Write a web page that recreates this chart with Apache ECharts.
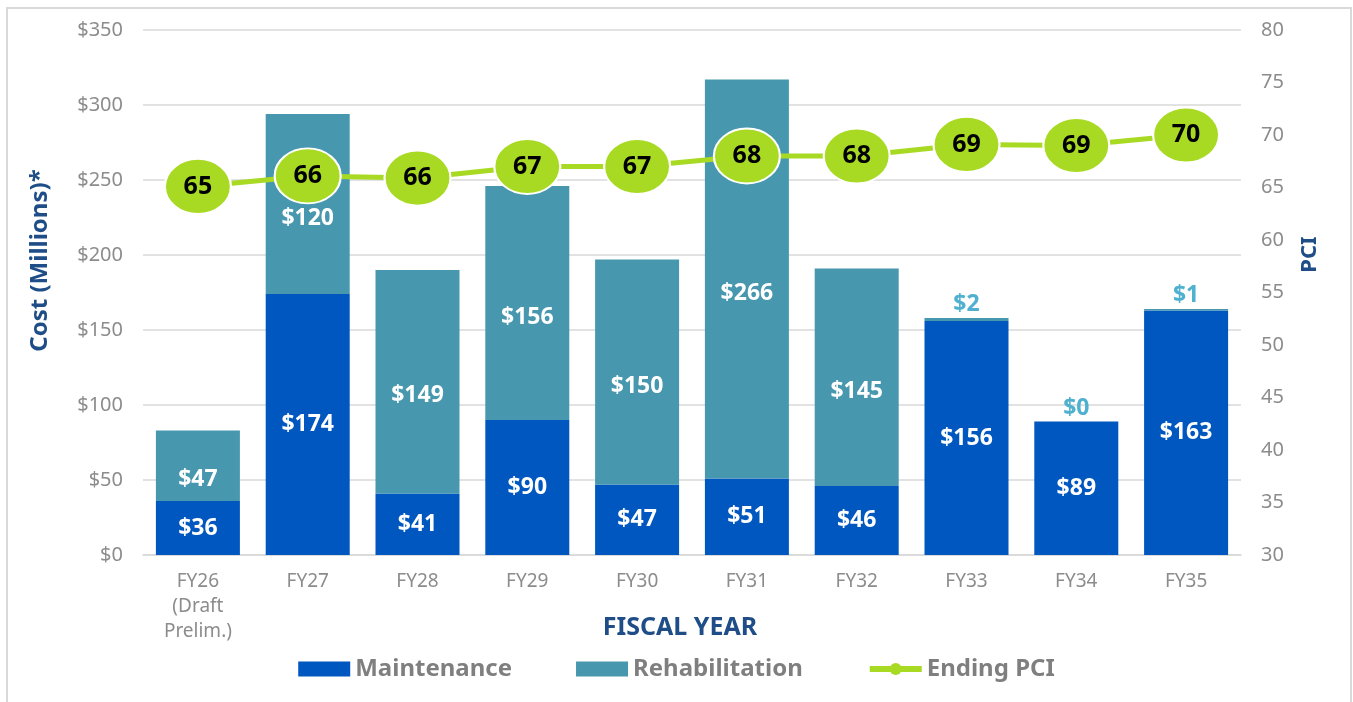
<!DOCTYPE html>
<html>
<head>
<meta charset="utf-8">
<script src="https://cdn.jsdelivr.net/npm/echarts@6/dist/echarts.min.js"></script>
<style>
  html, body { margin: 0; padding: 0; background: #fff; }
  #main { width: 1353px; height: 702px; }
</style>
</head>
<body>
<div id="main"></div>
<script>
var years = ['FY26\n(Draft\nPrelim.)', 'FY27', 'FY28', 'FY29', 'FY30', 'FY31', 'FY32', 'FY33', 'FY34', 'FY35']
var maintenance = [36, 174, 41, 90, 47, 51, 46, 156, 89, 163]
var rehabilitation = [47, 120, 149, 156, 150, 266, 145, 2, 0, 1]
var endingPci = [65.1, 66.1, 65.9, 67.0, 67.0, 68.0, 68.0, 69.1, 69.0, 70.0]

var font = 'Noto Sans'
var blue = '#0057bf'
var teal = '#4797ae'
var green = '#a8da24'
var navy = '#1f4d87'
var grey = '#8c8c8c'

// small rehab values sit above the bar in light blue
var rehabData = rehabilitation.map(function (v) {
    if (v < 10) {
        return { value: v, label: { position: 'top', color: '#4fb0cf', distance: 2, offset: [0, 0] } }
    }
    return v
})

var myChart = echarts.init(document.getElementById('main'))
var option = {
    animation: false,
    textStyle: { fontFamily: font },
    graphic: [{
        type: 'rect',
        shape: { x: 7, y: 8, width: 1344, height: 720 },
        style: { fill: 'none', stroke: '#d9d9d9', lineWidth: 2 },
        silent: true
    }],
    grid: { left: 143, right: 112, top: 30, bottom: 147 },
    legend: {
        bottom: 16,
        left: 'center',
        itemGap: 64,
        itemWidth: 52,
        itemHeight: 15,
        textStyle: { fontSize: 24, fontWeight: 'bold', color: '#7f7f7f', fontFamily: font },
        data: [
            { name: 'Maintenance', icon: 'rect' },
            { name: 'Rehabilitation', icon: 'rect' },
            { name: 'Ending PCI', lineStyle: { width: 6 }, itemStyle: { borderWidth: 0 } }
        ]
    },
    xAxis: {
        type: 'category',
        data: years,
        name: 'FISCAL YEAR',
        nameLocation: 'middle',
        nameGap: 60,
        nameMoveOverlap: false,
        nameTextStyle: { fontSize: 25, fontWeight: 'bold', color: navy, padding: [0, 24, 0, 0] },
        axisLine: { lineStyle: { color: '#d9d9d9', width: 1.5 } },
        axisTick: { show: false },
        axisLabel: { fontSize: 19, color: grey, margin: 14, lineHeight: 25 }
    },
    yAxis: [{
        type: 'value',
        min: 0,
        max: 350,
        interval: 50,
        name: 'Cost (Millions)*',
        nameLocation: 'middle',
        nameGap: 91,
        nameMoveOverlap: false,
        nameTextStyle: { fontSize: 24, fontWeight: 'bold', color: navy, padding: [0, 0, 0, 64] },
        axisLabel: { fontSize: 20, color: grey, margin: 20, formatter: '${value}' },
        splitLine: { lineStyle: { color: '#d9d9d9', width: 1.5 } }
    }, {
        type: 'value',
        min: 30,
        max: 80,
        interval: 5,
        name: 'PCI',
        nameLocation: 'middle',
        nameGap: 58,
        nameMoveOverlap: false,
        nameTextStyle: { fontSize: 22, fontWeight: 'bold', color: navy, padding: [0, 0, 0, 76] },
        axisLabel: { fontSize: 20, color: grey, margin: 20 },
        splitLine: { show: false }
    }],
    series: [{
        name: 'Maintenance',
        type: 'bar',
        stack: 'cost',
        barWidth: 84,
        itemStyle: { color: blue },
        label: {
            show: true,
            position: 'inside',
            color: '#fff',
            fontSize: 23,
            fontWeight: 'bold',
            formatter: '${c}'
        },
        data: maintenance
    }, {
        name: 'Rehabilitation',
        type: 'bar',
        stack: 'cost',
        barWidth: 84,
        itemStyle: { color: teal },
        label: {
            show: true,
            position: 'inside',
            offset: [0, 14],
            color: '#fff',
            fontSize: 23,
            fontWeight: 'bold',
            formatter: '${c}'
        },
        data: rehabData
    }, {
        name: 'Ending PCI',
        type: 'line',
        yAxisIndex: 1,
        symbol: 'circle',
        symbolSize: [66, 55],
        z: 5,
        lineStyle: { color: green, width: 5 },
        itemStyle: { color: green, borderColor: '#fff', borderWidth: 2 },
        label: {
            show: true,
            position: 'inside',
            color: '#000',
            fontSize: 25,
            fontWeight: 'bold',
            formatter: function (p) { return Math.round(p.value) }
        },
        data: endingPci
    }]
}
myChart.setOption(option)
</script>
</body>
</html>
